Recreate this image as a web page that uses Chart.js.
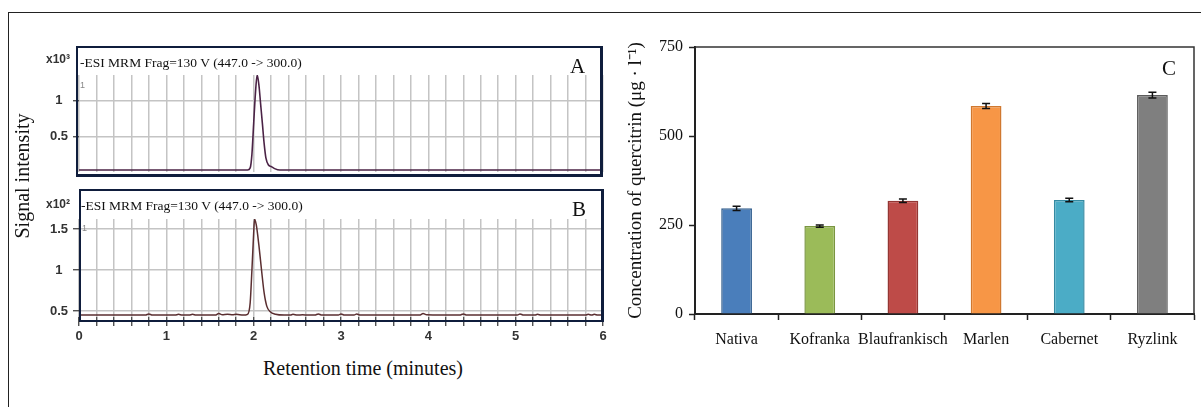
<!DOCTYPE html>
<html><head><meta charset="utf-8">
<script src="https://cdn.jsdelivr.net/npm/chart.js@4.4.1/dist/chart.umd.min.js"></script>
<style>
html,body{margin:0;padding:0;background:#fff;}
#page{position:relative;width:1201px;height:407px;overflow:hidden;background:#fff;font-family:"Liberation Serif",serif;color:#111;}
.abs{position:absolute;white-space:nowrap;}
.rot{position:absolute;white-space:nowrap;transform:translate(-50%,-50%) rotate(-90deg);}
canvas{position:absolute;}
.box{position:absolute;box-sizing:border-box;border:2px solid #0f1d3c;}
</style></head><body>
<div id="page">
  <div class="abs" style="left:8px;top:12px;width:1200px;height:400px;border-left:1.5px solid #222;border-top:1.5px solid #222;"></div>

  <canvas id="cA" width="620" height="145" style="left:0;top:40px;width:620px;height:145px;"></canvas>
  <canvas id="cB" width="620" height="160" style="left:0;top:185px;width:620px;height:160px;"></canvas>
  <canvas id="cC" width="601" height="370" style="left:600px;top:30px;width:601px;height:370px;"></canvas>

  <div class="box" style="left:76px;top:46px;width:527px;height:131px;border-right-width:3px;border-bottom-width:3px;"></div>
  <div class="box" style="left:79px;top:189px;width:525px;height:133px;border-width:2.5px;border-right-width:3px;"></div>

  <div class="abs" style="left:80px;top:55px;font-size:13.5px;line-height:16px;">-ESI MRM Frag=130 V (447.0 -&gt; 300.0)</div>
  <div class="abs" style="left:81px;top:198px;font-size:13.5px;line-height:16px;">-ESI MRM Frag=130 V (447.0 -&gt; 300.0)</div>
  <div class="abs" style="left:46px;top:52px;font-family:'Liberation Sans',sans-serif;font-size:12px;line-height:14px;font-weight:bold;color:#333;">x10³</div>
  <div class="abs" style="left:46px;top:197px;font-family:'Liberation Sans',sans-serif;font-size:12px;line-height:14px;font-weight:bold;color:#333;">x10²</div>
  <div class="abs" style="left:80px;top:80px;font-family:'Liberation Sans',sans-serif;font-size:9px;line-height:11px;color:#888;">1</div>
  <div class="abs" style="left:82px;top:223px;font-family:'Liberation Sans',sans-serif;font-size:9px;line-height:11px;color:#888;">1</div>
  <div class="abs" style="left:570px;top:55px;font-size:21px;line-height:22px;">A</div>
  <div class="abs" style="left:572px;top:198px;font-size:21px;line-height:22px;">B</div>
  <div class="abs" style="left:1162px;top:57px;font-size:21px;line-height:22px;">C</div>
  <div class="rot" style="left:22px;top:176px;font-size:20px;line-height:22px;">Signal intensity</div>
  <div class="abs" style="left:363px;top:368px;transform:translate(-50%,-50%);font-size:20px;line-height:22px;">Retention time (minutes)</div>
</div>
<script>
// ---- Chromatogram A (x10^3) ----
const timeA = [0, 1.93, 1.96, 1.98, 2.00, 2.02, 2.04, 2.06, 2.08, 2.10, 2.12, 2.14, 2.17, 2.20, 2.24, 2.30, 6.0];
const signalA = [0.03, 0.03, 0.06, 0.25, 0.68, 1.10, 1.36, 1.22, 0.95, 0.68, 0.40, 0.20, 0.10, 0.08, 0.05, 0.03, 0.03];
// ---- Chromatogram B (x10^2) ----
const timeB = [0, 0.76, 0.80, 0.84, 1.10, 1.14, 1.18, 1.26, 1.30, 1.34, 1.56, 1.60, 1.64, 1.70, 1.76, 1.80, 1.88, 1.93, 1.96, 1.98, 2.00, 2.01, 2.03, 2.06, 2.09, 2.12, 2.15, 2.19, 2.25, 2.35, 2.42, 2.45, 2.50, 2.56, 2.62, 2.70, 2.74, 2.78, 2.97, 3.00, 3.04, 3.15, 3.18, 3.22, 3.90, 3.94, 3.98, 4.36, 4.40, 4.44, 5.02, 5.05, 5.09, 5.22, 5.25, 5.29, 5.80, 5.83, 5.87, 5.90, 5.94, 6.0];
const signalB = [0.45, 0.45, 0.465, 0.45, 0.45, 0.46, 0.45, 0.45, 0.46, 0.45, 0.45, 0.47, 0.455, 0.46, 0.455, 0.46, 0.45, 0.46, 0.60, 1.00, 1.45, 1.62, 1.55, 1.30, 1.00, 0.72, 0.56, 0.49, 0.46, 0.45, 0.45, 0.46, 0.45, 0.455, 0.45, 0.45, 0.465, 0.45, 0.45, 0.465, 0.45, 0.45, 0.465, 0.45, 0.45, 0.47, 0.455, 0.45, 0.465, 0.45, 0.45, 0.465, 0.45, 0.45, 0.46, 0.45, 0.45, 0.46, 0.45, 0.46, 0.45, 0.45];
const yTicksA = [0.5, 1];
const yTicksB = [0.5, 1, 1.5];
const minuteLabels = [0, 1, 2, 3, 4, 5, 6];
// ---- Bar chart C ----
const cultivars = ['Nativa', 'Kofranka', 'Blaufrankisch', 'Marlen', 'Cabernet', 'Ryzlink'];
const quercitrin = [297, 247, 318, 584, 320, 615];
const quercitrinErr = [6, 3, 5, 7, 5, 8];
const yTicksC = [0, 250, 500, 750];
const barFill = ['#4a7ebb', '#9bbb59', '#be4b48', '#f79646', '#4bacc6', '#7f7f7f'];
const barEdge = ['#35608f', '#7a9640', '#943633', '#d0782f', '#348aa2', '#5c5c5c'];

function gridMinuteTicks(axis) {
  const t = [];
  for (let i = 0; i <= 30; i++) t.push({ value: Math.round(i * 2) / 10 });
  axis.ticks = t;
}
const sans = 'Liberation Sans';
const serif = 'Liberation Serif';
const gridCol = '#c4c4c4';

function chromOptions(yMin, yMax, yTicks, padTop, xHeight, showX) {
  return {
    responsive: false, animation: false, events: [],
    layout: { padding: { left: 0, right: 17, top: padTop, bottom: 0 } },
    plugins: { legend: { display: false }, tooltip: { enabled: false } },
    scales: {
      x: {
        type: 'linear', min: 0, max: 6,
        afterBuildTicks: gridMinuteTicks,
        afterFit: s => { s.height = xHeight; },
        ticks: {
          display: showX, autoSkip: false, maxRotation: 0, padding: 3,
          font: { family: sans, size: 13, weight: 'bold' }, color: '#333',
          callback: v => { const r = Math.round(v); return (Math.abs(v - r) < 1e-6 && minuteLabels.includes(r)) ? String(r) : ''; }
        },
        grid: { color: gridCol, lineWidth: 1.5, drawTicks: showX, tickLength: 9, tickColor: '#333', tickWidth: 1.2 },
        border: { display: false }
      },
      y: {
        type: 'linear', min: yMin, max: yMax,
        afterBuildTicks: a => { a.ticks = yTicks.map(v => ({ value: v })); },
        afterFit: s => { s.width = 79; },
        ticks: { font: { family: sans, size: 13, weight: 'bold' }, color: '#333', crossAlign: 'center', padding: 5, callback: v => String(v) },
        grid: { color: gridCol, lineWidth: 1.5, tickLength: 6, tickColor: '#333', tickWidth: 1.2 },
        border: { display: false }
      }
    }
  };
}

new Chart(document.getElementById('cA'), {
  type: 'line',
  data: { datasets: [{ data: timeA.map((t, i) => ({ x: t, y: signalA[i] })), borderColor: '#4b2346', borderWidth: 1.6, pointRadius: 0, cubicInterpolationMode: 'monotone', fill: false }] },
  options: chromOptions(0, 1.36, yTicksA, 35, 12, false)
});

new Chart(document.getElementById('cB'), {
  type: 'line',
  data: { datasets: [{ data: timeB.map((t, i) => ({ x: t, y: signalB[i] })), borderColor: '#5a2e30', borderWidth: 1.5, pointRadius: 0, cubicInterpolationMode: 'monotone', fill: false }] },
  options: chromOptions(0.427, 1.622, yTicksB, 34, 28, true)
});

const frameAndErrors = {
  id: 'frameAndErrors',
  afterDatasetsDraw(chart) {
    const ctx = chart.ctx, y = chart.scales.y, meta = chart.getDatasetMeta(0);
    ctx.save();
    ctx.strokeStyle = '#111'; ctx.lineWidth = 1.5;
    meta.data.forEach((bar, i) => {
      const v = quercitrin[i], e = quercitrinErr[i];
      const yt = y.getPixelForValue(v + e), yb = y.getPixelForValue(v - e);
      ctx.beginPath();
      ctx.moveTo(bar.x, yt); ctx.lineTo(bar.x, yb);
      ctx.moveTo(bar.x - 4, yt); ctx.lineTo(bar.x + 4, yt);
      ctx.moveTo(bar.x - 4, yb); ctx.lineTo(bar.x + 4, yb);
      ctx.stroke();
    });
    const a = chart.chartArea;
    ctx.strokeStyle = '#333'; ctx.lineWidth = 1.5;
    ctx.beginPath();
    ctx.moveTo(a.left, a.top); ctx.lineTo(a.right, a.top); ctx.lineTo(a.right, a.bottom);
    ctx.stroke();
    ctx.restore();
  }
};

new Chart(document.getElementById('cC'), {
  type: 'bar',
  data: {
    labels: cultivars,
    datasets: [{ data: quercitrin, backgroundColor: barFill, borderColor: barEdge, borderWidth: 1.5, barPercentage: 0.37, categoryPercentage: 1 }]
  },
  options: {
    responsive: false, animation: false, events: [],
    layout: { padding: { left: 0, right: 7, top: 17, bottom: 0 } },
    plugins: { legend: { display: false }, tooltip: { enabled: false } },
    scales: {
      x: {
        afterFit: s => { s.height = 86; },
        grid: { drawOnChartArea: false, offset: true, tickLength: 6, tickColor: '#222', tickWidth: 1.5 },
        border: { color: '#222', width: 2 },
        ticks: { font: { family: serif, size: 16 }, color: '#111', padding: 10, maxRotation: 0, autoSkip: false }
      },
      y: {
        min: 0, max: 750,
        afterBuildTicks: a => { a.ticks = yTicksC.map(v => ({ value: v })); },
        afterFit: s => { s.width = 95; },
        grid: { drawOnChartArea: false, tickLength: 6, tickColor: '#222', tickWidth: 1.5 },
        border: { color: '#222', width: 2 },
        ticks: { font: { family: serif, size: 16 }, color: '#111', padding: 6 },
        title: { display: true, text: 'Concentration of quercitrin (μg · l⁻¹)', font: { family: serif, size: 19 }, color: '#111', padding: { top: 25, bottom: 0 } }
      }
    }
  },
  plugins: [frameAndErrors]
});
</script>
</body></html>
